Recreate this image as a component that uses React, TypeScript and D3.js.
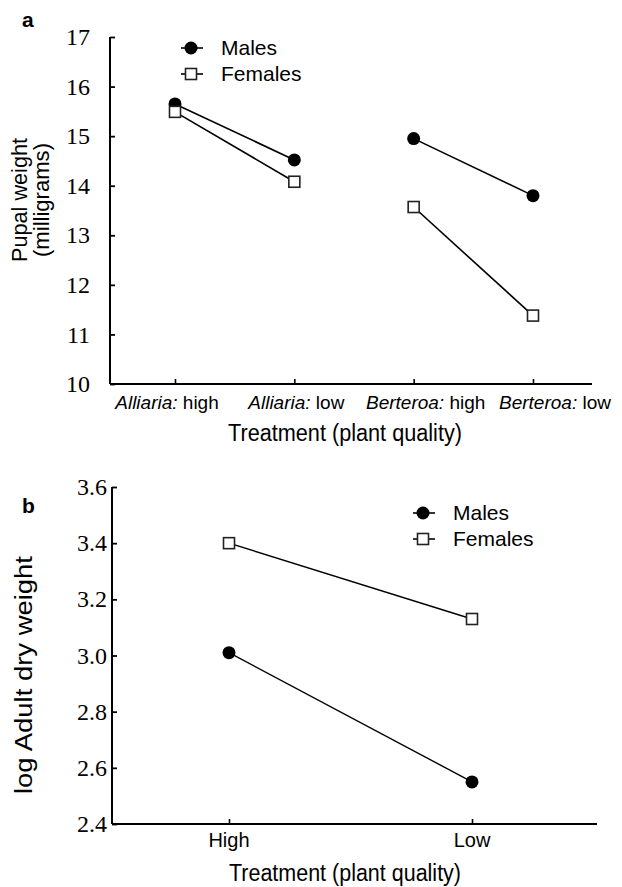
import * as d3 from "d3";
import React, { useEffect, useRef } from "react";

// panel a: pupal weight
const treatmentsA = ["Alliaria: high", "Alliaria: low", "Berteroa: high", "Berteroa: low"];
const plantGroupsA = [["Alliaria: high", "Alliaria: low"], ["Berteroa: high", "Berteroa: low"]];
const malesA = [15.65, 14.52, 14.95, 13.8];
const femalesA = [15.49, 14.08, 13.57, 11.38];
const ticksA = [10, 11, 12, 13, 14, 15, 16, 17];

// panel b: log adult dry weight
const treatmentsB = ["High", "Low"];
const malesB = [3.01, 2.55];
const femalesB = [3.4, 3.13];
const ticksB = [2.4, 2.6, 2.8, 3.0, 3.2, 3.4, 3.6];

const seriesNames = ["Males", "Females"];

const SANS = "Liberation Sans";
const SERIF = "Liberation Serif";

const App = () => {
  const ref = useRef<SVGSVGElement>(null);

  useEffect(() => {
    const svg = d3.select(ref.current);
    svg.selectAll("*").remove();

    const drawMarker = (g, kind, x, y) => {
      if (kind === "Males") {
        g.append("circle").attr("cx", x).attr("cy", y).attr("r", 6.5).attr("fill", "#000");
      } else {
        g.append("rect")
          .attr("x", x - 5.5).attr("y", y - 5.5)
          .attr("width", 11).attr("height", 11)
          .attr("fill", "#fff").attr("stroke", "#222").attr("stroke-width", 1.6);
      }
    };

    const drawLegend = (lx, ly) => {
      const lg = svg.append("g");
      seriesNames.forEach((name, i) => {
        const y = ly + i * 26;
        lg.append("line").attr("x1", lx - 10).attr("x2", lx + 12)
          .attr("y1", y).attr("y2", y).attr("stroke", "#000").attr("stroke-width", 1.6);
        drawMarker(lg, name, lx, y);
        lg.append("text").attr("x", lx + 30).attr("y", y + 7)
          .style("font-family", SANS).style("font-size", "21px").text(name);
      });
    };

    // y axis: inward ticks from d3, serif labels drawn from the same scale
    const drawYAxis = (scale, ticks, x0, fmt, gap) => {
      const g = svg.append("g").attr("transform", `translate(${x0},0)`)
        .call(d3.axisLeft(scale).tickValues(ticks).tickSize(-5).tickFormat(() => ""));
      g.select(".domain").remove();
      g.selectAll(".tick line").attr("stroke", "#000").attr("stroke-width", 1.8);
      svg.append("g").selectAll("text").data(ticks).join("text")
        .attr("x", x0 - gap).attr("y", (d) => scale(d)).attr("dy", "0.34em")
        .attr("text-anchor", "end")
        .style("font-family", SERIF).style("font-size", "24px").attr("fill", "#000")
        .text((d) => fmt(d));
      const [lo, hi] = scale.range();
      svg.append("line").attr("x1", x0).attr("x2", x0).attr("y1", hi).attr("y2", lo)
        .attr("stroke", "#000").attr("stroke-width", 2);
    };

    const drawXAxis = (scale, y0, x1, x2) => {
      const g = svg.append("g").attr("transform", `translate(0,${y0})`)
        .call(d3.axisBottom(scale).tickSize(-5).tickFormat(() => ""));
      g.select(".domain").remove();
      g.selectAll(".tick line").attr("stroke", "#000").attr("stroke-width", 1.6);
      svg.append("line").attr("x1", x1).attr("x2", x2).attr("y1", y0).attr("y2", y0)
        .attr("stroke", "#000").attr("stroke-width", 2);
    };

    // ---------- panel a ----------
    const yA = d3.scaleLinear().domain([10, 17]).range([384, 37]);
    const xA = d3.scalePoint().domain(treatmentsA).range([175, 533]);
    const xLabA = d3.scalePoint().domain(treatmentsA).range([167, 555]);

    svg.append("text").attr("x", 22).attr("y", 27)
      .style("font-family", SANS).style("font-weight", "bold").style("font-size", "21px").text("a");

    drawYAxis(yA, ticksA, 110, d3.format("d"), 20);
    drawXAxis(xA, 384, 110, 592);

    treatmentsA.forEach((t) => {
      const [genus, level] = t.split(": ");
      const tx = svg.append("text").attr("x", xLabA(t)).attr("y", 409)
        .attr("text-anchor", "middle").style("font-family", SANS).style("font-size", "19px");
      tx.append("tspan").style("font-style", "italic").text(genus + ":");
      tx.append("tspan").text(" " + level);
    });

    svg.append("text").attr("x", 345).attr("y", 441).attr("text-anchor", "middle")
      .style("font-family", SANS).style("font-size", "23px")
      .attr("textLength", 234).attr("lengthAdjust", "spacingAndGlyphs")
      .text("Treatment (plant quality)");

    const yLabA = svg.append("text").attr("transform", "translate(27,200) rotate(-90)")
      .attr("text-anchor", "middle").style("font-family", SANS).style("font-size", "22px");
    yLabA.append("tspan").attr("x", 0).attr("dy", 0)
      .attr("textLength", 124).attr("lengthAdjust", "spacingAndGlyphs").text("Pupal weight");
    yLabA.append("tspan").attr("x", 0).attr("dy", 22)
      .attr("textLength", 114).attr("lengthAdjust", "spacingAndGlyphs").text("(milligrams)");

    const seriesA = [["Males", malesA], ["Females", femalesA]] as [string, number[]][];
    seriesA.forEach(([name, vals]) => {
      const g = svg.append("g");
      plantGroupsA.forEach((grp) => {
        const pts = grp.map((t) => [xA(t), yA(vals[treatmentsA.indexOf(t)])] as [number, number]);
        g.append("path").attr("d", d3.line()(pts)).attr("fill", "none")
          .attr("stroke", "#000").attr("stroke-width", 1.6);
      });
      treatmentsA.forEach((t, i) => drawMarker(g, name, xA(t), yA(vals[i])));
    });

    drawLegend(191, 48);

    // ---------- panel b ----------
    const yB = d3.scaleLinear().domain([2.4, 3.6]).range([824, 487]);
    const xB = d3.scalePoint().domain(treatmentsB).range([229, 472]);

    svg.append("text").attr("x", 22).attr("y", 513)
      .style("font-family", SANS).style("font-weight", "bold").style("font-size", "21px").text("b");

    drawYAxis(yB, ticksB, 112, d3.format(".1f"), 5);
    drawXAxis(xB, 824, 112, 597);

    treatmentsB.forEach((t) => {
      svg.append("text").attr("x", xB(t)).attr("y", 847).attr("text-anchor", "middle")
        .style("font-family", SANS).style("font-size", "20px").text(t);
    });

    svg.append("text").attr("x", 345).attr("y", 881).attr("text-anchor", "middle")
      .style("font-family", SANS).style("font-size", "23px")
      .attr("textLength", 232).attr("lengthAdjust", "spacingAndGlyphs")
      .text("Treatment (plant quality)");

    svg.append("text").attr("transform", "translate(32,675) rotate(-90)")
      .attr("text-anchor", "middle").style("font-family", SANS).style("font-size", "23px")
      .attr("textLength", 238).attr("lengthAdjust", "spacingAndGlyphs")
      .text("log Adult dry weight");

    const seriesB = [["Females", femalesB], ["Males", malesB]] as [string, number[]][];
    seriesB.forEach(([name, vals]) => {
      const g = svg.append("g");
      const pts = treatmentsB.map((t, i) => [xB(t), yB(vals[i])] as [number, number]);
      g.append("path").attr("d", d3.line()(pts)).attr("fill", "none")
        .attr("stroke", "#000").attr("stroke-width", 1.4);
      treatmentsB.forEach((t, i) => drawMarker(g, name, xB(t), yB(vals[i])));
    });

    drawLegend(423, 513);
  }, []);

  return (
    <svg
      ref={ref}
      width={622}
      height={887}
      style={{ position: "absolute", left: 0, top: 0, background: "#fff" }}
    />
  );
};

export default App;
